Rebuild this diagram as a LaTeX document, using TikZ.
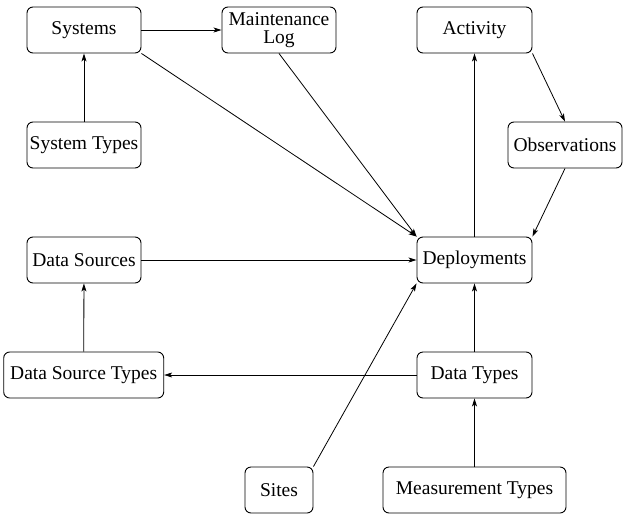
\documentclass[tikz,border=0pt]{standalone}
\usepackage{fontspec}
\setmainfont{Liberation Serif}
\usetikzlibrary{arrows.meta}
\begin{document}
\begin{tikzpicture}[x=1pt,y=-1pt,
  box/.style={draw,line width=0.9pt,rounded corners=6pt,minimum height=46pt,inner sep=1pt,
    font=\fontsize{19.5}{18}\selectfont,align=center},
  conn/.style={line width=0.8pt,-{Stealth[length=8pt,width=5pt,inset=2pt]}}]
\useasboundingbox (0,0) rectangle (623,514);
\node[box,minimum width=114pt] (sys) at (84,30) {Systems};
\node[box,minimum width=114pt] (mlog) at (279,30) {Maintenance\\Log};
\node[box,minimum width=115pt] (act) at (474.5,30) {Activity};
\node[box,minimum width=114pt] (systy) at (84,145) {System Types};
\node[box,minimum width=114pt] (obs) at (565,145) {Observations};
\node[box,minimum width=114pt] (dsrc) at (84,260) {Data Sources};
\node[box,minimum width=115pt] (dep) at (474.5,260) {Deployments};
\node[box,minimum width=160pt] (dsty) at (83.7,375) {Data Source Types};
\node[box,minimum width=115pt] (dty) at (474.5,375) {Data Types};
\node[box,minimum width=68pt] (sites) at (279,490) {Sites};
\node[box,minimum width=183pt] (mty) at (474.5,490) {Measurement Types};

\draw[conn] (systy) -- (sys);
\draw[conn] (sys) -- (mlog);
\draw[conn] (sys.south east) -- (dep.north west);
\draw[conn] (mlog.south) -- (dep.north west);
\draw[conn] (dep) -- (act);
\draw[conn] (act.south east) -- (obs.north);
\draw[conn] (obs.south) -- (dep.north east);
\draw[conn] (dsrc) -- (dep);
\draw[conn] (dsty) -- (dsrc);
\draw[conn] (dty) -- (dsty);
\draw[conn] (dty) -- (dep);
\draw[conn] (sites.north east) -- (dep.south west);
\draw[conn] (mty) -- (dty);
\end{tikzpicture}
\end{document}
